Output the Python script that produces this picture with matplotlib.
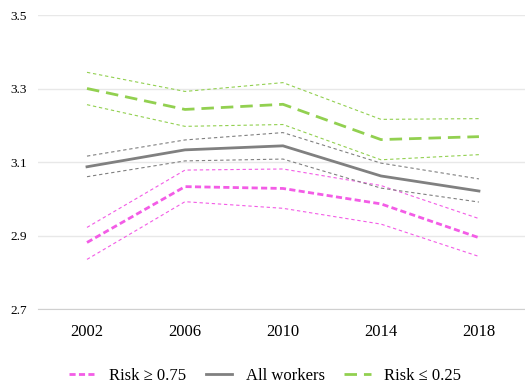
import matplotlib.pyplot as plt
import numpy as np

years = ['2002', '2006', '2010', '2014', '2018']

# Risk >= 0.75
high_risk = [2.881, 3.033, 3.028, 2.986, 2.894]
high_upper = [2.922, 3.078, 3.081, 3.036, 2.946]
high_lower = [2.835, 2.992, 2.974, 2.931, 2.843]

# All workers
all_workers = [3.087, 3.133, 3.144, 3.062, 3.021]
all_upper = [3.116, 3.160, 3.180, 3.097, 3.054]
all_lower = [3.060, 3.103, 3.108, 3.029, 2.991]

# Risk <= 0.25
low_risk = [3.300, 3.243, 3.257, 3.161, 3.169]
low_upper = [3.344, 3.292, 3.316, 3.216, 3.218]
low_lower = [3.256, 3.197, 3.202, 3.106, 3.120]

pink = '#F35CE6'
gray = '#808080'
green = '#92D050'

plt.rcParams['font.family'] = ['Liberation Serif', 'DejaVu Serif']

fig = plt.figure(figsize=(5.25, 3.91), dpi=100)
ax = fig.add_axes([38/525, 82/391, 487/525, 294/391])
x = np.arange(len(years))

# bandes de confiance
for lo, hi, c in [(high_lower, high_upper, pink), (all_lower, all_upper, gray),
                  (low_lower, low_upper, green)]:
    ax.plot(x, lo, color=c, lw=0.8, ls=(0, (3, 2.5)))
    ax.plot(x, hi, color=c, lw=0.8, ls=(0, (3, 2.5)))

ax.plot(x, high_risk, color=pink, lw=2, ls=(0, (2.2, 1.2)), label='Risk \u2265 0.75')
ax.plot(x, all_workers, color=gray, lw=2, label='All workers')
ax.plot(x, low_risk, color=green, lw=2, ls=(0, (4.5, 2.5)), label='Risk \u2264 0.25')

ax.set_xlim(-0.5, 4.47)
ax.set_ylim(2.7, 3.5)
ax.set_yticks([2.7, 2.9, 3.1, 3.3, 3.5])
ax.set_yticklabels(['2.7', '2.9', '3.1', '3.3', '3.5'], fontsize=9.5)
ax.set_xticks(x)
ax.set_xticklabels(years, fontsize=12)
ax.tick_params(length=0, pad=8)
ax.tick_params(axis='x', pad=11)
ax.grid(axis='y', color='#E8E8E8', lw=1)
ax.set_axisbelow(True)
for s in ['top', 'right', 'left']:
    ax.spines[s].set_visible(False)
ax.spines['bottom'].set_color('#D0D0D0')

fig.legend(loc='lower center', bbox_to_anchor=(0.505, -0.02), ncol=3, frameon=False,
           fontsize=12, handlelength=1.6, columnspacing=1.15)

plt.savefig('out.png', dpi=100)
